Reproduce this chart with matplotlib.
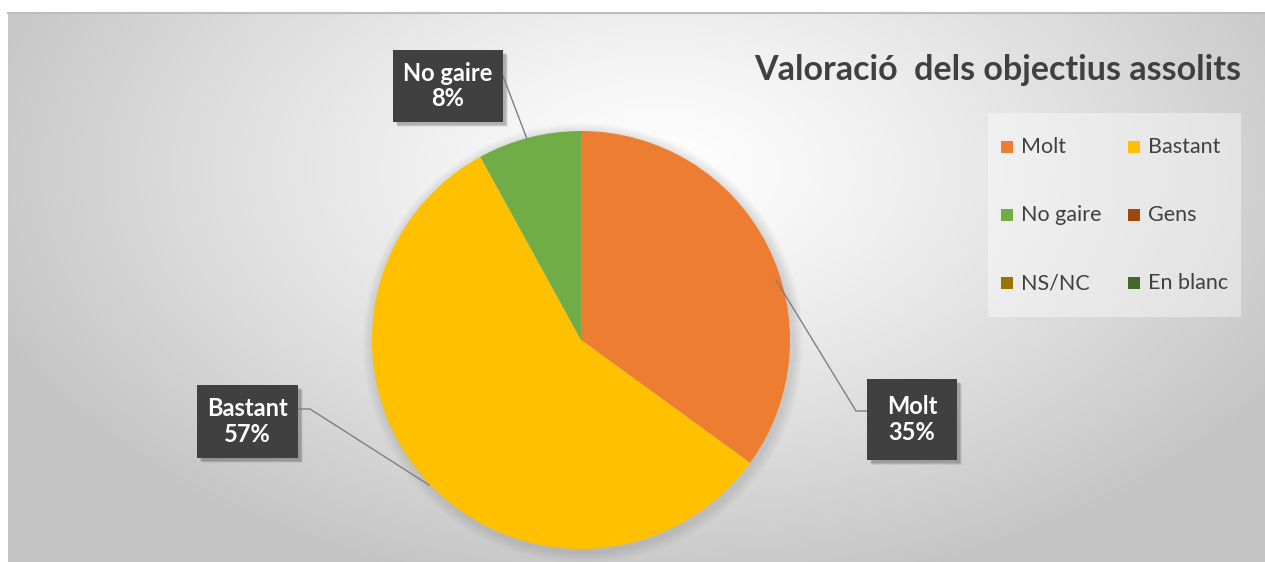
import numpy as np
import matplotlib
matplotlib.use('Agg')
import matplotlib.pyplot as plt
from matplotlib.patches import Rectangle, Circle

categories = ['Molt', 'Bastant', 'No gaire', 'Gens', 'NS/NC', 'En blanc']
values = [35, 57, 8, 0, 0, 0]
colors = ['#ED7D31', '#FFC000', '#70AD47', '#9E480E', '#997300', '#43682B']
title = 'Valoració  dels objectius assolits'

plt.rcParams['font.family'] = ['Lato', 'DejaVu Sans']

W, H = 1265, 562
fig = plt.figure(figsize=(W / 100, H / 100), dpi=100)
ax = fig.add_axes([0, 0, 1, 1])


def Y(y):
    return H - y


# background radial gradient
xs = np.arange(8, W) + 0.5
ys = np.arange(12, H) + 0.5
X, YY = np.meshgrid(xs, ys)
d = np.sqrt(((X - 660) / 720) ** 2 + ((YY - 170) / 430) ** 2)
v = 1 - 0.23 * np.clip(d, 0, 1) ** 1.2
img = np.dstack([v, v, v])
ax.imshow(img, extent=(8, W, 0, H - 12), origin='upper', zorder=0,
          interpolation='bilinear', aspect='auto')
ax.plot([8, W], [H - 12.5, H - 12.5], color='#bdbdbd', lw=1.5, zorder=1)

cx, cy, R = 581, Y(340), 209
# soft shadow
for i in range(1, 12):
    ax.add_patch(Circle((cx + 2, cy - 3), R + i, color='#808080', alpha=0.025,
                        lw=0, zorder=1))

ax.pie(values, colors=colors, startangle=90, counterclock=False,
       center=(cx, cy), radius=R, wedgeprops=dict(linewidth=0, zorder=2))

total = sum(values)
# label boxes: (category index, box left, top, width, height)
boxes = [(0, 867, 379, 90, 81), (1, 197, 385, 101, 73), (2, 393, 50, 110, 72)]
for idx, bx, by, bw, bh in boxes:
    for k in range(1, 6):
        ax.add_patch(Rectangle((bx + 2 + k * 0.6, Y(by + bh) - 2 - k * 0.6), bw, bh,
                               color='#000000', alpha=0.06, lw=0, zorder=3))
    ax.add_patch(Rectangle((bx, Y(by + bh)), bw, bh, color='#404040', lw=0, zorder=4))
    pct = values[idx] / total * 100
    ax.text(bx + bw / 2, Y(by + bh / 2), f'{categories[idx]}\n{pct:.0f}%',
            ha='center', va='center', color='white', fontsize=17,
            fontweight='bold', linespacing=1.15, zorder=5)

lc = '#7f7f7f'
ax.plot([503, 527], [Y(76), Y(139)], color=lc, lw=1, zorder=3)
ax.plot([298, 310, 429], [Y(409), Y(409), Y(485)], color=lc, lw=1, zorder=3)
ax.plot([867, 856, 776], [Y(411), Y(411), Y(280)], color=lc, lw=1, zorder=3)

ax.text(1241, Y(80), title, ha='right', va='baseline', fontsize=24.5,
        fontweight='bold', color='#404040', zorder=5)

# legend (drawn manually to match the layout)
ax.add_patch(Rectangle((988, Y(317)), 253, 204, facecolor='white', alpha=0.4,
                       lw=0, zorder=4))
order = [0, 1, 2, 3, 4, 5]
col_x = [1001, 1128]
row_y = [147, 215, 283]
ms = 12
for n, i in enumerate(order):
    mx = col_x[n % 2]
    my = row_y[n // 2]
    ax.add_patch(Rectangle((mx, Y(my) - ms / 2), ms, ms, facecolor=colors[i],
                           lw=0, zorder=5))
    ax.text(mx + 20, Y(my), categories[i], ha='left', va='center',
            fontsize=15.5, color='#404040', zorder=5)

ax.set_xlim(0, W)
ax.set_ylim(0, H)
ax.set_aspect('auto')
ax.axis('off')
fig.savefig('out.png', dpi=100, facecolor='white')
